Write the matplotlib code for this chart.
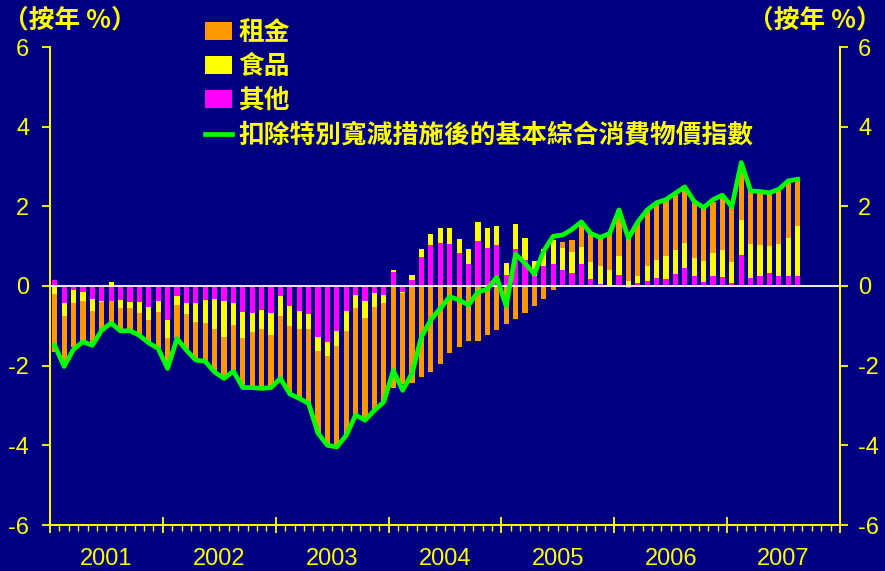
import matplotlib
matplotlib.use('Agg')
import matplotlib.pyplot as plt
import numpy as np
from matplotlib.patches import Patch
from matplotlib.lines import Line2D
from matplotlib.ticker import FixedLocator
import matplotlib.transforms as mtransforms

plt.rcParams['axes.unicode_minus'] = False

# ---- data (monthly, Jan 2001 - Aug 2007), percentage points ----
rent = [-1.45, -1.15, -1.12, -1.02, -0.85, -0.70, -0.55, -0.56, -0.55, -0.52,
        -0.55, -0.90, -0.75, -0.82, -0.88, -0.95, -0.95, -1.07, -1.02, -1.13,
        -1.23, -1.38, -1.47, -1.29, -1.54, -1.68, -1.70, -1.85, -2.05, -2.22,
        -2.51, -2.60, -2.68, -2.55, -2.57, -2.46, -2.55, -2.28, -2.43, -2.28,
        -2.15, -1.96, -1.67, -1.52, -1.37, -1.37, -1.22, -1.10, -0.95, -0.82,
        -0.67, -0.49, -0.33, -0.10, 0.15, 0.29, 0.62, 0.73, 0.70, 0.96,
        1.16, 1.07, 1.36, 1.42, 1.42, 1.42, 1.38, 1.34, 1.42, 1.36,
        1.28, 1.34, 1.39, 1.42, 1.34, 1.36, 1.34, 1.40, 1.43, 1.17]
food = [-0.21, -0.33, -0.31, -0.23, -0.31, -0.03, 0.10, -0.21, -0.15, -0.28,
        -0.33, -0.27, -0.44, -0.23, -0.28, -0.47, -0.59, -0.76, -0.90, -0.56,
        -0.65, -0.47, -0.49, -0.56, -0.51, -0.52, -0.45, -0.38, -0.35, -0.35,
        -0.38, -0.49, -0.32, -0.42, -0.35, -0.20, 0.04, -0.03, 0.13, 0.21,
        0.27, 0.38, 0.41, 0.35, 0.38, 0.48, 0.51, 0.48, 0.30, 0.63,
        0.55, 0.38, 0.45, 0.60, 0.56, 0.54, 0.44, 0.41, 0.45, 0.40,
        0.47, 0.13, 0.18, 0.36, 0.46, 0.57, 0.60, 0.61, 0.44, 0.53,
        0.59, 0.67, 0.53, 0.88, 0.84, 0.78, 0.68, 0.80, 0.96, 1.26]
other = [0.14, -0.43, -0.11, -0.15, -0.33, -0.38, -0.38, -0.34, -0.40, -0.40,
         -0.53, -0.38, -0.86, -0.25, -0.43, -0.43, -0.34, -0.32, -0.38, -0.43,
         -0.65, -0.68, -0.59, -0.68, -0.25, -0.49, -0.63, -0.70, -1.29, -1.41,
         -1.13, -0.64, -0.23, -0.38, -0.18, -0.23, 0.36, -0.14, 0.15, 0.72,
         1.03, 1.08, 1.05, 0.83, 0.55, 1.13, 0.95, 1.03, 0.28, 0.93,
         0.65, 0.25, 0.49, 0.55, 0.40, 0.32, 0.55, 0.18, 0.05, 0.00,
         0.28, -0.04, 0.07, 0.13, 0.19, 0.18, 0.30, 0.46, 0.26, 0.10,
         0.25, 0.23, 0.07, 0.78, 0.21, 0.25, 0.32, 0.25, 0.25, 0.25]
underlying = [-1.49, -2.02, -1.59, -1.40, -1.49, -1.11, -0.93, -1.13, -1.12, -1.24,
              -1.43, -1.57, -2.07, -1.32, -1.61, -1.86, -1.89, -2.16, -2.32, -2.14,
              -2.55, -2.55, -2.57, -2.55, -2.32, -2.71, -2.82, -2.95, -3.70, -4.00,
              -4.04, -3.75, -3.24, -3.37, -3.12, -2.91, -2.12, -2.62, -2.19, -1.27,
              -0.85, -0.56, -0.27, -0.35, -0.48, -0.15, -0.08, 0.22, -0.50, 0.80,
              0.57, 0.30, 0.88, 1.25, 1.28, 1.42, 1.61, 1.32, 1.22, 1.32,
              1.91, 1.20, 1.61, 1.91, 2.09, 2.17, 2.33, 2.49, 2.12, 1.97,
              2.17, 2.28, 1.99, 3.10, 2.39, 2.37, 2.34, 2.43, 2.64, 2.68]
years = ['2001', '2002', '2003', '2004', '2005', '2006', '2007']
series_names = ['租金', '食品', '其他', '扣除特別寬減措施後的基本綜合消費物價指數']
y_ticks = [-6, -4, -2, 0, 2, 4, 6]
unit_label = '（按年 %）'

# ---- style ----
NAVY = '#000080'
YEL = '#FFFF00'
C_RENT = '#FF9900'
C_FOOD = '#FFFF00'
C_OTHER = '#FF00FF'
C_LINE = '#00FF00'
CJK = ['Noto Sans CJK TC', 'DejaVu Sans']
NUM = ['Liberation Sans', 'DejaVu Sans']
NUMSIZE = 17

fig = plt.figure(figsize=(8.85, 5.71), dpi=100, facecolor=NAVY)
ax = fig.add_axes([50/885, 46/571, 790/885, 478/571])
ax.set_facecolor(NAVY)

n = len(rent)
x = np.arange(n)
pos_b = np.zeros(n)
neg_b = np.zeros(n)
for vals, col in [(other, C_OTHER), (food, C_FOOD), (rent, C_RENT)]:
    v = np.array(vals, dtype=float)
    b = np.where(v >= 0, pos_b, neg_b)
    ax.bar(x, v, bottom=b, width=0.55, color=col, linewidth=0, zorder=2)
    pos_b += np.clip(v, 0, None)
    neg_b += np.clip(v, None, 0)

ax.axhline(0, color='white', lw=1.3, zorder=3)
ax.plot(x, underlying, color=C_LINE, lw=3.4, zorder=4, solid_joinstyle='round')

ax.set_xlim(-0.5, 83.5)
ax.set_ylim(-6, 6)

for s in ['left', 'right', 'bottom']:
    ax.spines[s].set_color(YEL)
    ax.spines[s].set_linewidth(1.4)
ax.spines['top'].set_visible(False)

# x ticks: year boundaries (major) and months (minor)
ax.xaxis.set_major_locator(FixedLocator(np.arange(-0.5, 84, 12)))
ax.xaxis.set_minor_locator(FixedLocator(np.arange(-0.5, 84, 1)))
ax.tick_params(axis='x', which='major', direction='inout', length=11, width=1.3,
               color=YEL, labelbottom=False)
ax.tick_params(axis='x', which='minor', direction='out', length=4, width=1.0,
               color=YEL)
trans = mtransforms.blended_transform_factory(ax.transData, ax.transAxes)
for i, yr in enumerate(years):
    ax.text(5.5 + 12 * i, -0.048, yr, transform=trans, ha='center', va='top',
            color=YEL, fontsize=NUMSIZE, family=NUM)

ax.set_yticks(y_ticks)
ax.set_yticklabels([str(t) for t in y_ticks])
ax.tick_params(axis='y', direction='out', length=6, width=1.3, color=YEL,
               labelcolor=YEL, labelsize=NUMSIZE, pad=9)
for lab in ax.get_yticklabels():
    lab.set_family(NUM)

ax2 = ax.twinx()
ax2.set_ylim(-6, 6)
ax2.set_yticks(y_ticks)
ax2.set_yticklabels([str(t) for t in y_ticks])
ax2.tick_params(axis='y', direction='out', length=6, width=1.3, color=YEL,
                labelcolor=YEL, labelsize=NUMSIZE, pad=7)
for lab in ax2.get_yticklabels():
    lab.set_family(NUM)
for s in ['left', 'top', 'bottom']:
    ax2.spines[s].set_visible(False)
ax2.spines['right'].set_color(YEL)
ax2.spines['right'].set_linewidth(1.4)

fig.text(3/885, 1 - 20/571, unit_label, ha='left', va='center', color=YEL,
         fontsize=18.5, family=CJK, fontweight='bold')
fig.text(882/885, 1 - 20/571, unit_label, ha='right', va='center', color=YEL,
         fontsize=18.5, family=CJK, fontweight='bold')

handles = [Patch(facecolor=C_RENT, edgecolor='none'),
           Patch(facecolor=C_FOOD, edgecolor='none'),
           Patch(facecolor=C_OTHER, edgecolor='none'),
           Line2D([0], [0], color=C_LINE, lw=3.4)]
leg = ax.legend(handles, series_names, loc='upper left',
                bbox_to_anchor=(155/790, 1 + 28/478), frameon=False,
                prop={'family': CJK, 'size': 18.5, 'weight': 'bold'},
                handlelength=1.05, handleheight=0.7, labelspacing=0.28,
                handletextpad=0.25, borderaxespad=0, borderpad=0)
for t in leg.get_texts():
    t.set_color(YEL)

fig.savefig('out.png', dpi=100, facecolor=NAVY)
